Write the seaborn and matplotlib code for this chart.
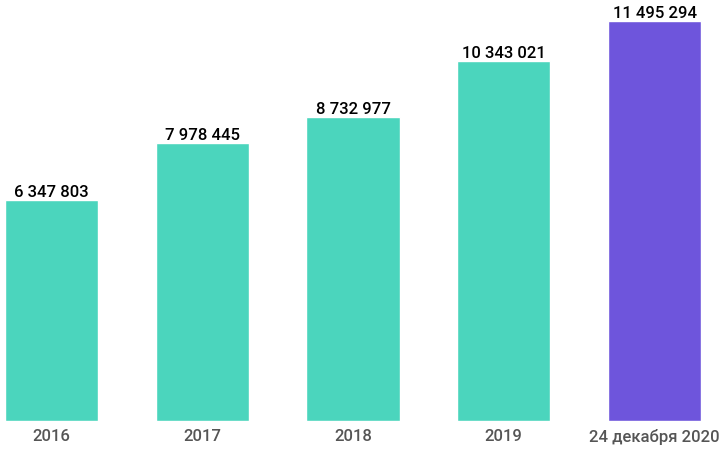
import matplotlib
matplotlib.use("Agg")
import matplotlib.pyplot as plt
import seaborn as sns
import pandas as pd

years = ['2016', '2017', '2018', '2019', '24 декабря 2020']
values = [6347803, 7978445, 8732977, 10343021, 11495294]
colors = ['#4bd5bd', '#4bd5bd', '#4bd5bd', '#4bd5bd', '#6e55dc']

sns.set_theme(style="white")
plt.rcParams['font.family'] = ['Roboto', 'DejaVu Sans']

df = pd.DataFrame({'year': years, 'value': values})

fig = plt.figure(figsize=(7.28, 4.49), dpi=100)
ax = fig.add_axes([0, 28 / 449, 1, 400 / 449])
sns.barplot(data=df, x='year', y='value', hue='year', palette=colors,
            width=0.617, legend=False, ax=ax, saturation=1)

ax.set_xlim(-51.5 / 150.75, (728 - 51.5) / 150.75)
ax.set_ylim(0, max(values))
ax.set_xlabel('')
ax.set_ylabel('')
ax.set_yticks([])
for s in ax.spines.values():
    s.set_visible(False)
ax.tick_params(axis='x', length=0, pad=6, labelsize=12, labelcolor='#555555')
for lbl in ax.get_xticklabels():
    lbl.set_fontweight('medium')

for i, v in enumerate(values):
    label = f"{v:,}".replace(',', ' ')
    ax.text(i, v, label, ha='center', va='bottom', fontsize=12,
            fontweight='medium', color='black', clip_on=False)

fig.savefig('out.png', dpi=100)
